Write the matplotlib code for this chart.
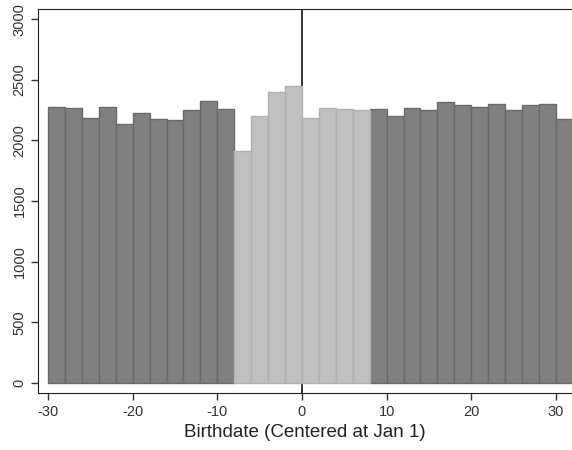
import numpy as np
import matplotlib.pyplot as plt

plt.rcParams['font.family'] = ['Liberation Sans', 'DejaVu Sans']
plt.rcParams['axes.unicode_minus'] = False

# bin left edges (2-day bins) and counts
bin_left = np.arange(-30, 32, 2)
counts = [2277, 2264, 2181, 2277, 2132, 2225, 2173, 2170, 2253, 2322, 2258,
          1915, 2198, 2401, 2448, 2187, 2269, 2261, 2247,
          2258, 2203, 2264, 2247, 2319, 2289, 2277, 2297, 2253, 2294, 2302, 2173]

fig = plt.figure(figsize=(5.72, 4.5), dpi=100)
ax = fig.add_axes([0.067, 0.127, 0.933, 0.852])

inside = (bin_left >= -8) & (bin_left < 8)
cnt = np.array(counts)
ax.bar(bin_left[~inside], cnt[~inside], width=2, align='edge',
       color='#808080', edgecolor='#6a6a6a', linewidth=1, zorder=2)
ax.bar(bin_left[inside], cnt[inside], width=2, align='edge',
       color='#c0c0c0', edgecolor='#b0b0b0', linewidth=1, zorder=2)

ax.axvline(0, color='black', linewidth=1.1, zorder=1)

ax.set_xlim(-31.15, 31.9)
ax.set_ylim(-82, 3080)
ax.set_xticks([-30, -20, -10, 0, 10, 20, 30])
ax.set_yticks([0, 500, 1000, 1500, 2000, 2500, 3000])
ax.tick_params(axis='both', labelsize=10.5, colors='#333333', length=5, width=1)
plt.setp(ax.get_yticklabels(), rotation=90, va='center')
ax.spines['right'].set_visible(False)
for s in ['left', 'bottom', 'top']:
    ax.spines[s].set_color('#222222')
ax.set_xlabel('Birthdate (Centered at Jan 1)', fontsize=13.5, color='#222222', labelpad=4)

fig.savefig('out.png', dpi=100)
